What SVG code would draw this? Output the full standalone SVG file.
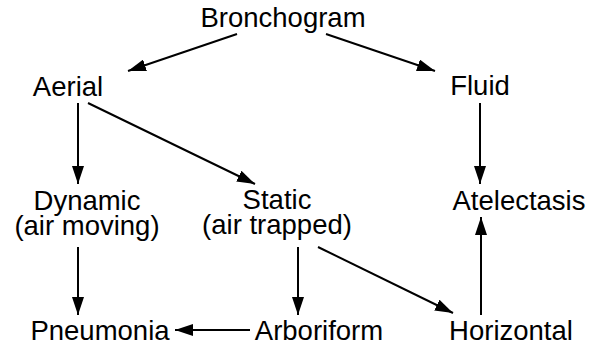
<svg xmlns="http://www.w3.org/2000/svg" width="598" height="347" viewBox="0 0 598 347">
<style>
text { font-family: "Liberation Sans", Arial, sans-serif; font-size: 27.5px; fill: #000; text-anchor: middle; }
.edge { stroke: #000; stroke-width: 2; fill: none; marker-end: url(#arrow); }
</style>
<defs>
<marker id="arrow" viewBox="0 0 18 12" refX="18" refY="6" markerWidth="18" markerHeight="12" markerUnits="userSpaceOnUse" orient="auto">
<path d="M0,0 L18,6 L0,12 Z" fill="#000"/>
</marker>
</defs>
<rect width="598" height="347" fill="#fff"/>
<g id="connectors">
<line class="edge" x1="237" y1="34" x2="128" y2="71"/>
<line class="edge" x1="326" y1="34" x2="435" y2="71"/>
<line class="edge" x1="480" y1="103" x2="480" y2="184"/>
<line class="edge" x1="78" y1="103" x2="78" y2="184"/>
<line class="edge" x1="88" y1="103" x2="255" y2="184"/>
<line class="edge" x1="78" y1="247" x2="78" y2="315"/>
<line class="edge" x1="298" y1="247" x2="298" y2="315"/>
<line class="edge" x1="318" y1="247" x2="453" y2="313"/>
<line class="edge" x1="481" y1="315" x2="481" y2="217"/>
<line class="edge" x1="250" y1="330" x2="175" y2="330"/>
</g>
<g id="bronchogram"><text x="283" y="27">Bronchogram</text></g>
<g id="aerial"><text x="68" y="96">Aerial</text></g>
<g id="fluid"><text x="480" y="95">Fluid</text></g>
<g id="dynamic"><text x="87" y="210">Dynamic</text><text x="87" y="235">(air moving)</text></g>
<g id="static"><text x="277" y="209">Static</text><text x="277" y="234">(air trapped)</text></g>
<g id="atelectasis"><text x="519" y="210">Atelectasis</text></g>
<g id="pneumonia"><text x="100" y="340">Pneumonia</text></g>
<g id="arboriform"><text x="319" y="340">Arboriform</text></g>
<g id="horizontal"><text x="511" y="340">Horizontal</text></g>
</svg>
